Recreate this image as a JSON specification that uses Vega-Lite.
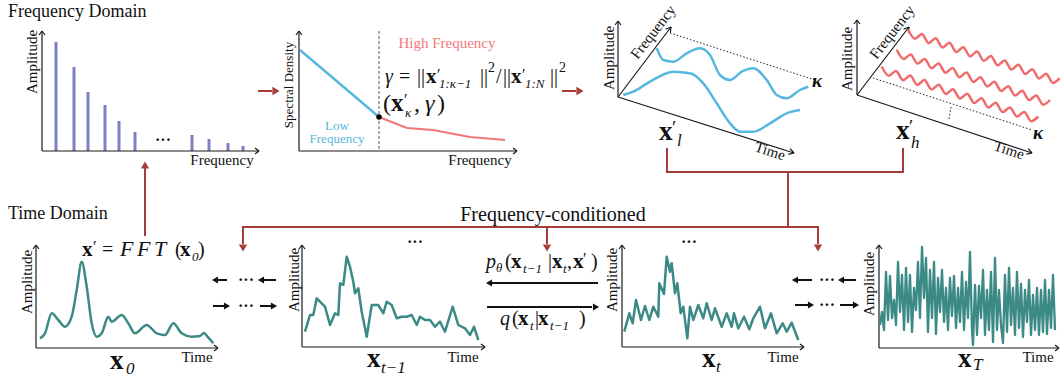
{
"$schema": "https://vega.github.io/schema/vega-lite/v6.json",
"width": 1060, "height": 377, "autosize": {"type": "none"}, "padding": 0,
"background": "white",
"config": {"font": "Liberation Serif", "view": {"stroke": null}, "text": {"font": "Liberation Serif", "color": "#111"}},
"datasets": {
"bars": [{"x":56,"y":42,"base":151},{"x":74,"y":67,"base":151},{"x":88,"y":92,"base":151},{"x":105,"y":105,"base":151},{"x":119,"y":121,"base":151},{"x":135,"y":132,"base":151},{"x":192,"y":135,"base":151},{"x":209,"y":139,"base":151},{"x":228,"y":143,"base":151},{"x":243,"y":146,"base":151}],
"axes": [
{"x":42,"y":151,"x2":42,"y2":31},{"x":42,"y":151,"x2":259,"y2":151},{"x":39,"y":35,"x2":42,"y2":31},{"x":45,"y":35,"x2":42,"y2":31},{"x":255,"y":148,"x2":259,"y2":151},{"x":255,"y":154,"x2":259,"y2":151},
{"x":299,"y":151,"x2":299,"y2":31},{"x":299,"y":151,"x2":517,"y2":151},{"x":296,"y":35,"x2":299,"y2":31},{"x":302,"y":35,"x2":299,"y2":31},{"x":513,"y":148,"x2":517,"y2":151},{"x":513,"y":154,"x2":517,"y2":151},
{"x":618,"y":97,"x2":618,"y2":21},{"x":618,"y":97,"x2":671,"y2":27},{"x":618,"y":97,"x2":794,"y2":153},{"x":615,"y":25,"x2":618,"y2":21},{"x":621,"y":25,"x2":618,"y2":21},{"x":670.4,"y":32.8,"x2":671,"y2":27},{"x":665.6,"y":29.2,"x2":671,"y2":27},{"x":788.3,"y":154.4,"x2":794,"y2":153},{"x":790.1,"y":148.6,"x2":794,"y2":153},
{"x":857,"y":95,"x2":857,"y2":20},{"x":857,"y":95,"x2":909,"y2":27},{"x":857,"y":95,"x2":1032,"y2":153},{"x":854,"y":24,"x2":857,"y2":20},{"x":860,"y":24,"x2":857,"y2":20},{"x":908.4,"y":32.8,"x2":909,"y2":27},{"x":903.6,"y":29.2,"x2":909,"y2":27},{"x":1026.4,"y":154.2,"x2":1032,"y2":153},{"x":1028.2,"y":148.6,"x2":1032,"y2":153},
{"x":36,"y":348,"x2":36,"y2":245},{"x":36,"y":348,"x2":218,"y2":348},{"x":33,"y":249,"x2":36,"y2":245},{"x":39,"y":249,"x2":36,"y2":245},{"x":214,"y":345,"x2":218,"y2":348},{"x":214,"y":351,"x2":218,"y2":348},
{"x":302,"y":347,"x2":302,"y2":245},{"x":302,"y":347,"x2":485,"y2":347},{"x":299,"y":249,"x2":302,"y2":245},{"x":305,"y":249,"x2":302,"y2":245},{"x":481,"y":344,"x2":485,"y2":347},{"x":481,"y":350,"x2":485,"y2":347},
{"x":622,"y":347,"x2":622,"y2":245},{"x":622,"y":347,"x2":804,"y2":347},{"x":619,"y":249,"x2":622,"y2":245},{"x":625,"y":249,"x2":622,"y2":245},{"x":800,"y":344,"x2":804,"y2":347},{"x":800,"y":350,"x2":804,"y2":347},
{"x":879,"y":348,"x2":879,"y2":245},{"x":879,"y":348,"x2":1059,"y2":348},{"x":876,"y":249,"x2":879,"y2":245},{"x":882,"y":249,"x2":879,"y2":245},{"x":1055,"y":345,"x2":1059,"y2":348},{"x":1055,"y":351,"x2":1059,"y2":348}
],
"dotted": [{"x":670,"y":33,"x2":815,"y2":80},{"x":873,"y":78,"x2":1032,"y2":130},{"x":951,"y":107,"x2":949,"y2":119}],
"dashed": [{"x":379,"y":31,"x2":379,"y2":151}],
"specBlue": [{"x":300,"y":50},{"x":379,"y":117}],
"specRed": [{"x":379,"y":117},{"x":407,"y":128},{"x":433,"y":130},{"x":470,"y":137},{"x":505,"y":140}],
"knot": [{"x":379,"y":117}],
"blue": [
{"s":"b1","x":656.7,"y":48.3},{"s":"b1","x":663.3,"y":60},{"s":"b1","x":673.3,"y":61.7},{"s":"b1","x":686.7,"y":53.3},{"s":"b1","x":700,"y":48.3},{"s":"b1","x":710,"y":55},{"s":"b1","x":720,"y":75},{"s":"b1","x":730,"y":80},{"s":"b1","x":741.7,"y":71.7},{"s":"b1","x":753.3,"y":68.3},{"s":"b1","x":766.7,"y":80},{"s":"b1","x":776.7,"y":95},{"s":"b1","x":786.7,"y":98.3},{"s":"b1","x":800,"y":90},{"s":"b1","x":808.3,"y":86.7},
{"s":"b2","x":623.3,"y":95},{"s":"b2","x":633.3,"y":91.7},{"s":"b2","x":650,"y":81.7},{"s":"b2","x":673.3,"y":71.7},{"s":"b2","x":690,"y":73.3},{"s":"b2","x":703.3,"y":83.3},{"s":"b2","x":716.7,"y":103.3},{"s":"b2","x":730,"y":123.3},{"s":"b2","x":740,"y":131.7},{"s":"b2","x":753.3,"y":131.7},{"s":"b2","x":770,"y":123.3},{"s":"b2","x":786.7,"y":113.3},{"s":"b2","x":800,"y":110}
],
"waves": [
{"s":"a","x":908.0,"y":29.5},{"s":"a","x":914.9,"y":38.7},{"s":"a","x":921.8,"y":33.9},{"s":"a","x":928.7,"y":43.1},{"s":"a","x":935.6,"y":38.3},{"s":"a","x":942.5,"y":47.5},{"s":"a","x":949.4,"y":42.7},{"s":"a","x":956.3,"y":52.0},{"s":"a","x":963.2,"y":47.2},{"s":"a","x":970.1,"y":56.4},{"s":"a","x":977.0,"y":51.6},{"s":"a","x":983.9,"y":60.8},{"s":"a","x":990.8,"y":56.0},{"s":"a","x":997.7,"y":65.2},{"s":"a","x":1004.6,"y":60.4},{"s":"a","x":1011.5,"y":69.6},{"s":"a","x":1018.4,"y":64.8},{"s":"a","x":1025.3,"y":74.0},{"s":"a","x":1032.2,"y":69.2},{"s":"a","x":1039.1,"y":78.5},{"s":"a","x":1046.0,"y":73.7},{"s":"a","x":1052.9,"y":82.9},{"s":"a","x":1059.8,"y":78.1},
{"s":"b","x":896.7,"y":49.8},{"s":"b","x":903.7,"y":59.1},{"s":"b","x":910.6,"y":54.4},{"s":"b","x":917.6,"y":63.6},{"s":"b","x":924.6,"y":58.9},{"s":"b","x":931.5,"y":68.2},{"s":"b","x":938.5,"y":63.5},{"s":"b","x":945.5,"y":72.8},{"s":"b","x":952.5,"y":68.0},{"s":"b","x":959.4,"y":77.3},{"s":"b","x":966.4,"y":72.6},{"s":"b","x":973.4,"y":81.9},{"s":"b","x":980.3,"y":77.2},{"s":"b","x":987.3,"y":86.4},{"s":"b","x":994.3,"y":81.7},{"s":"b","x":1001.2,"y":91.0},{"s":"b","x":1008.2,"y":86.3},{"s":"b","x":1015.2,"y":95.6},{"s":"b","x":1022.1,"y":90.8},{"s":"b","x":1029.1,"y":100.1},{"s":"b","x":1036.1,"y":95.4},{"s":"b","x":1043.1,"y":104.7},{"s":"b","x":1050.0,"y":100.0},
{"s":"c","x":881.7,"y":66.5},{"s":"c","x":888.8,"y":75.8},{"s":"c","x":895.9,"y":71.0},{"s":"c","x":903.1,"y":80.3},{"s":"c","x":910.2,"y":75.6},{"s":"c","x":917.3,"y":84.9},{"s":"c","x":924.4,"y":80.1},{"s":"c","x":931.5,"y":89.4},{"s":"c","x":938.7,"y":84.7},{"s":"c","x":945.8,"y":93.9},{"s":"c","x":952.9,"y":89.2},{"s":"c","x":960.0,"y":98.5},{"s":"c","x":967.1,"y":93.7},{"s":"c","x":974.3,"y":103.0},{"s":"c","x":981.4,"y":98.3},{"s":"c","x":988.5,"y":107.6},{"s":"c","x":995.6,"y":102.8},{"s":"c","x":1002.7,"y":112.1},{"s":"c","x":1009.9,"y":107.4},{"s":"c","x":1017.0,"y":116.6},{"s":"c","x":1024.1,"y":111.9},{"s":"c","x":1031.2,"y":121.2},{"s":"c","x":1038.3,"y":116.5}
],
"x0": [{"x":40,"y":338.3},{"x":45,"y":333.3},{"x":51.7,"y":313.3},{"x":58.3,"y":320},{"x":65,"y":326.7},{"x":71.7,"y":316.7},{"x":76.7,"y":290},{"x":81.7,"y":261.7},{"x":86.7,"y":286.7},{"x":91.7,"y":323.3},{"x":96.7,"y":336.7},{"x":101.7,"y":333.3},{"x":108.3,"y":316.7},{"x":111.7,"y":321.7},{"x":121.7,"y":315},{"x":128.3,"y":323.3},{"x":135,"y":333.3},{"x":146.7,"y":325},{"x":156.7,"y":333.3},{"x":165,"y":335},{"x":173.3,"y":323.3},{"x":181.7,"y":333.3},{"x":191.7,"y":336.7},{"x":200,"y":336},{"x":204,"y":333},{"x":207.5,"y":336.7},{"x":213.3,"y":343.3}],
"xtm1": [{"x":305,"y":331.7},{"x":310,"y":315},{"x":313.3,"y":315},{"x":316.7,"y":298.3},{"x":321.7,"y":303.3},{"x":325,"y":306.7},{"x":330,"y":325},{"x":335,"y":313.3},{"x":338.3,"y":315},{"x":340,"y":283.3},{"x":343.3,"y":285},{"x":346.7,"y":256.7},{"x":350,"y":266.7},{"x":353.3,"y":281.7},{"x":355,"y":293.3},{"x":358.3,"y":288.3},{"x":361.7,"y":311.7},{"x":366.7,"y":336.7},{"x":371.7,"y":305},{"x":378.3,"y":305},{"x":383.3,"y":313.3},{"x":386.7,"y":301.7},{"x":391.7,"y":305},{"x":396.7,"y":318.3},{"x":401.7,"y":316.7},{"x":406.7,"y":316.7},{"x":411.7,"y":315},{"x":416.7,"y":325},{"x":420,"y":316.7},{"x":425,"y":320},{"x":430,"y":320},{"x":435,"y":326.7},{"x":440,"y":321.7},{"x":445,"y":331.7},{"x":452.7,"y":306.7},{"x":458.3,"y":325},{"x":465,"y":328.3},{"x":470,"y":335},{"x":474,"y":326.7},{"x":478.3,"y":340}],
"xt": [{"x":624.3,"y":331.7},{"x":629.3,"y":313.3},{"x":632.7,"y":323.3},{"x":636,"y":300},{"x":641,"y":320},{"x":645,"y":306},{"x":649.3,"y":320},{"x":653.3,"y":306.7},{"x":658.3,"y":316.7},{"x":659.3,"y":283.3},{"x":664,"y":294},{"x":666.7,"y":256.7},{"x":670,"y":271.7},{"x":671.7,"y":263.3},{"x":675,"y":293.3},{"x":677.3,"y":283.3},{"x":680.7,"y":313.3},{"x":683.3,"y":306.7},{"x":687.3,"y":338.3},{"x":690,"y":306.7},{"x":693.3,"y":320},{"x":698.3,"y":305},{"x":703.3,"y":318.3},{"x":706.7,"y":303.3},{"x":711.7,"y":320},{"x":715,"y":308.3},{"x":721.7,"y":326.7},{"x":726.7,"y":313.3},{"x":731.7,"y":326.7},{"x":734,"y":313.3},{"x":738.3,"y":328.3},{"x":744,"y":316.7},{"x":749.3,"y":329.3},{"x":753.3,"y":318.3},{"x":760,"y":306.7},{"x":765,"y":328.3},{"x":771,"y":313.3},{"x":776.7,"y":333.3},{"x":782.7,"y":323.3},{"x":786.7,"y":331.7},{"x":791.7,"y":322.7},{"x":798.3,"y":340}],
"xT": [{"x":880,"y":325},{"x":882,"y":312},{"x":884,"y":330},{"x":886,"y":272},{"x":888,"y":320},{"x":890,"y":276},{"x":892,"y":318},{"x":894,"y":300},{"x":896,"y":325},{"x":898,"y":262},{"x":900,"y":312},{"x":902,"y":275},{"x":904,"y":330},{"x":906,"y":268},{"x":908,"y":322},{"x":910,"y":275},{"x":912,"y":332},{"x":914,"y":288},{"x":916,"y":310},{"x":918,"y":262},{"x":920,"y":318},{"x":922,"y":247},{"x":924,"y":298},{"x":926,"y":258},{"x":928,"y":332},{"x":930,"y":270},{"x":932,"y":318},{"x":934,"y":262},{"x":936,"y":334},{"x":938,"y":278},{"x":940,"y":312},{"x":942,"y":270},{"x":944,"y":322},{"x":946,"y":288},{"x":948,"y":330},{"x":950,"y":278},{"x":952,"y":316},{"x":954,"y":276},{"x":956,"y":328},{"x":958,"y":288},{"x":960,"y":322},{"x":962,"y":272},{"x":964,"y":330},{"x":966,"y":282},{"x":968,"y":318},{"x":970,"y":252},{"x":972,"y":330},{"x":973,"y":345},{"x":975,"y":285},{"x":977,"y":335},{"x":979,"y":286},{"x":981,"y":318},{"x":983,"y":270},{"x":985,"y":335},{"x":987,"y":290},{"x":989,"y":330},{"x":991,"y":272},{"x":993,"y":342},{"x":995,"y":258},{"x":997,"y":330},{"x":999,"y":290},{"x":1001,"y":325},{"x":1003,"y":343},{"x":1005,"y":275},{"x":1007,"y":332},{"x":1009,"y":268},{"x":1011,"y":325},{"x":1013,"y":288},{"x":1015,"y":335},{"x":1017,"y":272},{"x":1019,"y":328},{"x":1021,"y":284},{"x":1023,"y":337},{"x":1025,"y":290},{"x":1027,"y":322},{"x":1029,"y":280},{"x":1031,"y":335},{"x":1033,"y":295},{"x":1035,"y":330},{"x":1037,"y":288},{"x":1039,"y":335},{"x":1041,"y":290},{"x":1043,"y":332},{"x":1045,"y":280},{"x":1047,"y":334},{"x":1049,"y":290},{"x":1051,"y":328},{"x":1053,"y":275},{"x":1055,"y":330}],
"redLines": [{"x":145,"y":236,"x2":145,"y2":168},{"x":258,"y":91,"x2":272,"y2":91},{"x":562,"y":91,"x2":576,"y2":91},{"x":667,"y":148,"x2":667,"y2":172},{"x":666,"y":172,"x2":904,"y2":172},{"x":903,"y":172,"x2":903,"y2":148},{"x":788,"y":172,"x2":788,"y2":227},{"x":242,"y":227,"x2":819,"y2":227},{"x":243,"y":227,"x2":243,"y2":244},{"x":547,"y":227,"x2":547,"y2":244},{"x":818,"y":227,"x2":818,"y2":244}],
"redUp": [{"x":145,"y":165}],
"redRight": [{"x":276,"y":91},{"x":580,"y":91}],
"redDown": [{"x":243,"y":248},{"x":547,"y":248},{"x":818,"y":248}],
"blackLines": [{"x":227,"y":280,"x2":218,"y2":280},{"x":276,"y":280,"x2":264,"y2":280},{"x":213,"y":306,"x2":224,"y2":306},{"x":260,"y":306,"x2":271,"y2":306},{"x":598,"y":283,"x2":492,"y2":283},{"x":487,"y":307,"x2":592,"y2":307},{"x":812,"y":280,"x2":798,"y2":280},{"x":856,"y":280,"x2":844,"y2":280},{"x":795,"y":305,"x2":808,"y2":305},{"x":840,"y":305,"x2":853,"y2":305}],
"headLeft": [{"x":215,"y":280},{"x":261,"y":280},{"x":489,"y":283},{"x":795,"y":280},{"x":841,"y":280}],
"headRight": [{"x":227,"y":306},{"x":274,"y":306},{"x":596,"y":307},{"x":811,"y":305},{"x":856,"y":305}],
"heading": [{"x":8,"y":12,"t":"Frequency Domain"},{"x":8,"y":214,"t":"Time Domain"}],
"cond": [{"x":553,"y":215,"t":"Frequency-conditioned"}],
"axisLbl": [{"x":222,"y":160,"t":"Frequency"},{"x":480,"y":160,"t":"Frequency"},{"x":197,"y":357,"t":"Time"},{"x":463,"y":357,"t":"Time"},{"x":783,"y":357,"t":"Time"},{"x":1038,"y":357,"t":"Time"}],
"ampl": [{"x":32,"y":62,"t":"Amplitude"},{"x":609,"y":58,"t":"Amplitude"},{"x":847,"y":59,"t":"Amplitude"},{"x":27,"y":282,"t":"Amplitude"},{"x":294,"y":280,"t":"Amplitude"},{"x":612,"y":280,"t":"Amplitude"},{"x":869,"y":284,"t":"Amplitude"}],
"spec": [{"x":289,"y":85,"t":"Spectral Density"}],
"freqDiag": [{"x":653,"y":32,"t":"Frequency"},{"x":892,"y":32,"t":"Frequency"}],
"timeDiag": [{"x":770,"y":151,"t":"Time"},{"x":1009,"y":150,"t":"Time"}],
"high": [{"x":447,"y":43,"t":"High Frequency"}],
"low": [{"x":337,"y":126,"t":"Low"},{"x":337,"y":139,"t":"Frequency"}],
"dots": [{"x":163,"y":140,"t":"···"},{"x":415,"y":242,"t":"···"},{"x":689,"y":242,"t":"···"},{"x":246,"y":280,"t":"···"},{"x":246,"y":306,"t":"···"},{"x":827,"y":280,"t":"···"},{"x":827,"y":305,"t":"···"}],
"reg20": [{"x":399,"y":83,"t":"="},{"x":417,"y":83,"t":"||"},{"x":480,"y":83,"t":"||"},{"x":496,"y":83,"t":"/"},{"x":503,"y":83,"t":"||"},{"x":550,"y":83,"t":"||"},{"x":102,"y":256,"t":"="},{"x":175,"y":256,"t":"("},{"x":198,"y":256,"t":")"},{"x":505,"y":268,"t":"("},{"x":548,"y":268,"t":"|"},{"x":567,"y":268,"t":","},{"x":591,"y":268,"t":")"},{"x":512,"y":325,"t":"("},{"x":535,"y":325,"t":"|"},{"x":579,"y":325,"t":")"}],
"reg24": [{"x":383,"y":111,"t":"("},{"x":414,"y":111,"t":","},{"x":437,"y":111,"t":")"}],
"ital20": [{"x":385,"y":83,"t":"γ"},{"x":486,"y":268,"t":"p"},{"x":500,"y":325,"t":"q"}],
"ital24": [{"x":425,"y":111,"t":"γ"}],
"fft": [{"x":120,"y":256,"t":"F"},{"x":137,"y":256,"t":"F"},{"x":154,"y":256,"t":"T"}],
"bold20": [{"x":426,"y":83,"t":"x"},{"x":511,"y":83,"t":"x"},{"x":82,"y":256,"t":"x"},{"x":180,"y":256,"t":"x"},{"x":511,"y":268,"t":"x"},{"x":552,"y":268,"t":"x"},{"x":573,"y":268,"t":"x"},{"x":518,"y":325,"t":"x"},{"x":538,"y":325,"t":"x"}],
"bold24": [{"x":391,"y":111,"t":"x"}],
"bold26": [{"x":659,"y":140,"t":"x"},{"x":896,"y":139,"t":"x"},{"x":110,"y":369,"t":"x"},{"x":367,"y":367,"t":"x"},{"x":702,"y":367,"t":"x"},{"x":958,"y":367,"t":"x"}],
"sub": [{"x":439,"y":88,"t":"1:κ−1"},{"x":525,"y":88,"t":"1:N"},{"x":405,"y":117,"t":"κ"},{"x":192,"y":261,"t":"0"},{"x":496,"y":272,"t":"θ"},{"x":523,"y":273,"t":"t−1"},{"x":563,"y":273,"t":"t"},{"x":530,"y":330,"t":"t"},{"x":550,"y":330,"t":"t−1"}],
"subBig": [{"x":677,"y":146,"t":"l"},{"x":911,"y":148,"t":"h"},{"x":126,"y":374,"t":"0"},{"x":381,"y":373,"t":"t−1"},{"x":716,"y":372,"t":"t"},{"x":973,"y":370,"t":"T"}],
"sup": [{"x":488,"y":72,"t":"2"},{"x":559,"y":72,"t":"2"}],
"prime": [{"x":437,"y":80,"t":"′"},{"x":522,"y":80,"t":"′"},{"x":404,"y":105,"t":"′"},{"x":93,"y":252,"t":"′"},{"x":583,"y":264,"t":"′"}],
"primeBig": [{"x":672,"y":134,"t":"′"},{"x":909,"y":133,"t":"′"}],
"kappa": [{"x":812,"y":87,"t":"κ"},{"x":1033,"y":139,"t":"κ"}]
},
"encoding": {
"x": {"field": "x", "type": "quantitative", "scale": {"domain": [0, 1060], "nice": false, "zero": false}, "axis": null},
"y": {"field": "y", "type": "quantitative", "scale": {"domain": [0, 377], "nice": false, "zero": false, "reverse": true}, "axis": null}
},
"layer": [
{"data": {"name": "bars"}, "mark": {"type": "rule", "color": "#7b80c3", "strokeWidth": 3}, "encoding": {"y2": {"field": "base"}}},
{"data": {"name": "dashed"}, "mark": {"type": "rule", "color": "#555", "strokeWidth": 1, "strokeDash": [3, 2]}, "encoding": {"x2": {"field": "x2"}, "y2": {"field": "y2"}}},
{"data": {"name": "dotted"}, "mark": {"type": "rule", "color": "#222", "strokeWidth": 1, "strokeDash": [1.5, 2]}, "encoding": {"x2": {"field": "x2"}, "y2": {"field": "y2"}}},
{"data": {"name": "axes"}, "mark": {"type": "rule", "color": "#1a1a1a", "strokeWidth": 1.2}, "encoding": {"x2": {"field": "x2"}, "y2": {"field": "y2"}}},
{"data": {"name": "specBlue"}, "mark": {"type": "line", "color": "#56b8de", "strokeWidth": 2.5}, "encoding": {"order": {"value": null}}},
{"data": {"name": "specRed"}, "mark": {"type": "line", "color": "#f07777", "strokeWidth": 2}, "encoding": {"order": {"value": null}}},
{"data": {"name": "knot"}, "mark": {"type": "point", "filled": true, "color": "#000", "size": 30, "opacity": 1}},
{"data": {"name": "blue"}, "mark": {"type": "line", "color": "#56b8de", "strokeWidth": 2.5, "interpolate": "monotone"}, "encoding": {"detail": {"field": "s"}, "order": {"value": null}}},
{"data": {"name": "waves"}, "mark": {"type": "line", "color": "#f06c6c", "strokeWidth": 2.5, "interpolate": "monotone"}, "encoding": {"detail": {"field": "s"}, "order": {"value": null}}},
{"data": {"name": "x0"}, "mark": {"type": "line", "color": "#3c8a86", "strokeWidth": 2.5, "interpolate": "monotone"}, "encoding": {"order": {"value": null}}},
{"data": {"name": "xtm1"}, "mark": {"type": "line", "color": "#3c8a86", "strokeWidth": 2.5, "strokeJoin": "round"}, "encoding": {"order": {"value": null}}},
{"data": {"name": "xt"}, "mark": {"type": "line", "color": "#3c8a86", "strokeWidth": 2.5, "strokeJoin": "round"}, "encoding": {"order": {"value": null}}},
{"data": {"name": "xT"}, "mark": {"type": "line", "color": "#3c8a86", "strokeWidth": 2.3, "strokeJoin": "round"}, "encoding": {"order": {"value": null}}},
{"data": {"name": "redLines"}, "mark": {"type": "rule", "color": "#a63d3d", "strokeWidth": 2}, "encoding": {"x2": {"field": "x2"}, "y2": {"field": "y2"}}},
{"data": {"name": "redUp"}, "mark": {"type": "point", "shape": "triangle-up", "filled": true, "color": "#a63d3d", "size": 70, "opacity": 1}},
{"data": {"name": "redRight"}, "mark": {"type": "point", "shape": "triangle-right", "filled": true, "color": "#a63d3d", "size": 70, "opacity": 1}},
{"data": {"name": "redDown"}, "mark": {"type": "point", "shape": "triangle-down", "filled": true, "color": "#a63d3d", "size": 70, "opacity": 1}},
{"data": {"name": "blackLines"}, "mark": {"type": "rule", "color": "#111", "strokeWidth": 2}, "encoding": {"x2": {"field": "x2"}, "y2": {"field": "y2"}}},
{"data": {"name": "headLeft"}, "mark": {"type": "point", "shape": "triangle-left", "filled": true, "color": "#111", "size": 50, "opacity": 1}},
{"data": {"name": "headRight"}, "mark": {"type": "point", "shape": "triangle-right", "filled": true, "color": "#111", "size": 50, "opacity": 1}},
{"data": {"name": "heading"}, "mark": {"type": "text", "font": "Liberation Serif", "fontSize": 18, "align": "left", "baseline": "middle"}, "encoding": {"text": {"field": "t"}}},
{"data": {"name": "cond"}, "mark": {"type": "text", "font": "Liberation Serif", "fontSize": 20, "align": "center", "baseline": "middle"}, "encoding": {"text": {"field": "t"}}},
{"data": {"name": "axisLbl"}, "mark": {"type": "text", "font": "Liberation Serif", "fontSize": 15, "align": "center", "baseline": "middle"}, "encoding": {"text": {"field": "t"}}},
{"data": {"name": "ampl"}, "mark": {"type": "text", "font": "Liberation Serif", "fontSize": 15, "align": "center", "baseline": "middle", "angle": 270}, "encoding": {"text": {"field": "t"}}},
{"data": {"name": "spec"}, "mark": {"type": "text", "font": "Liberation Serif", "fontSize": 13, "align": "center", "baseline": "middle", "angle": 270}, "encoding": {"text": {"field": "t"}}},
{"data": {"name": "freqDiag"}, "mark": {"type": "text", "font": "Liberation Serif", "fontSize": 15, "align": "center", "baseline": "middle", "angle": 308}, "encoding": {"text": {"field": "t"}}},
{"data": {"name": "timeDiag"}, "mark": {"type": "text", "font": "Liberation Serif", "fontSize": 15, "align": "center", "baseline": "middle", "angle": 18}, "encoding": {"text": {"field": "t"}}},
{"data": {"name": "high"}, "mark": {"type": "text", "font": "Liberation Serif", "fontSize": 15, "align": "center", "baseline": "middle", "color": "#f07a7a"}, "encoding": {"text": {"field": "t"}}},
{"data": {"name": "low"}, "mark": {"type": "text", "font": "Liberation Serif", "fontSize": 13, "align": "center", "baseline": "middle", "color": "#56b8de"}, "encoding": {"text": {"field": "t"}}},
{"data": {"name": "dots"}, "mark": {"type": "text", "font": "Liberation Serif", "fontSize": 16, "align": "center", "baseline": "middle", "fontWeight": "bold"}, "encoding": {"text": {"field": "t"}}},
{"data": {"name": "reg20"}, "mark": {"type": "text", "font": "Liberation Serif", "fontSize": 20, "align": "left", "baseline": "alphabetic"}, "encoding": {"text": {"field": "t"}}},
{"data": {"name": "reg24"}, "mark": {"type": "text", "font": "Liberation Serif", "fontSize": 24, "align": "left", "baseline": "alphabetic"}, "encoding": {"text": {"field": "t"}}},
{"data": {"name": "ital20"}, "mark": {"type": "text", "font": "Liberation Serif", "fontSize": 20, "fontStyle": "italic", "align": "left", "baseline": "alphabetic"}, "encoding": {"text": {"field": "t"}}},
{"data": {"name": "ital24"}, "mark": {"type": "text", "font": "Liberation Serif", "fontSize": 24, "fontStyle": "italic", "align": "left", "baseline": "alphabetic"}, "encoding": {"text": {"field": "t"}}},
{"data": {"name": "fft"}, "mark": {"type": "text", "font": "Liberation Serif", "fontSize": 22, "fontStyle": "italic", "align": "left", "baseline": "alphabetic"}, "encoding": {"text": {"field": "t"}}},
{"data": {"name": "bold20"}, "mark": {"type": "text", "font": "Liberation Serif", "fontSize": 21, "fontWeight": "bold", "align": "left", "baseline": "alphabetic"}, "encoding": {"text": {"field": "t"}}},
{"data": {"name": "bold24"}, "mark": {"type": "text", "font": "Liberation Serif", "fontSize": 25, "fontWeight": "bold", "align": "left", "baseline": "alphabetic"}, "encoding": {"text": {"field": "t"}}},
{"data": {"name": "bold26"}, "mark": {"type": "text", "font": "Liberation Serif", "fontSize": 27, "fontWeight": "bold", "align": "left", "baseline": "alphabetic"}, "encoding": {"text": {"field": "t"}}},
{"data": {"name": "sub"}, "mark": {"type": "text", "font": "Liberation Serif", "fontSize": 13, "fontStyle": "italic", "align": "left", "baseline": "alphabetic"}, "encoding": {"text": {"field": "t"}}},
{"data": {"name": "subBig"}, "mark": {"type": "text", "font": "Liberation Serif", "fontSize": 17, "fontStyle": "italic", "align": "left", "baseline": "alphabetic"}, "encoding": {"text": {"field": "t"}}},
{"data": {"name": "sup"}, "mark": {"type": "text", "font": "Liberation Serif", "fontSize": 14, "align": "left", "baseline": "alphabetic"}, "encoding": {"text": {"field": "t"}}},
{"data": {"name": "prime"}, "mark": {"type": "text", "font": "Liberation Serif", "fontSize": 16, "align": "left", "baseline": "alphabetic"}, "encoding": {"text": {"field": "t"}}},
{"data": {"name": "primeBig"}, "mark": {"type": "text", "font": "Liberation Serif", "fontSize": 19, "align": "left", "baseline": "alphabetic"}, "encoding": {"text": {"field": "t"}}},
{"data": {"name": "kappa"}, "mark": {"type": "text", "font": "Liberation Serif", "fontSize": 19, "fontStyle": "italic", "fontWeight": "bold", "align": "left", "baseline": "alphabetic"}, "encoding": {"text": {"field": "t"}}}
]
}
